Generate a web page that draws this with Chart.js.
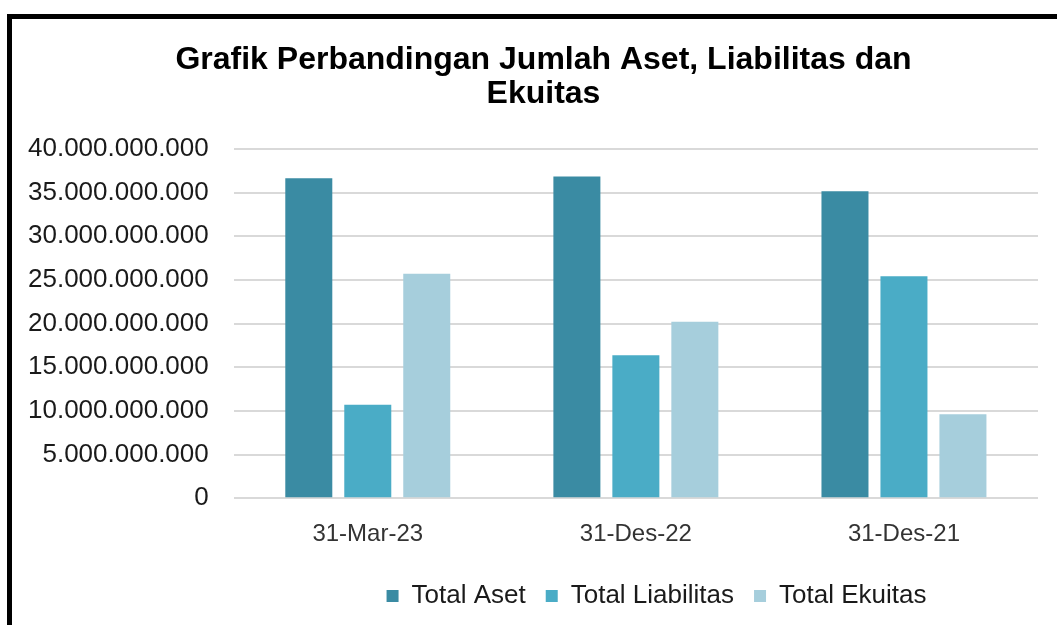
<!DOCTYPE html>
<html><head><meta charset="utf-8">
<script src="https://cdn.jsdelivr.net/npm/chart.js@4.4.1/dist/chart.umd.min.js"></script>
<style>
html,body{margin:0;padding:0;background:#fff;overflow:hidden;width:1057px;height:625px}
#wrap{position:relative;width:1057px;height:625px}
canvas{position:absolute;left:0;top:0}
#frame{position:absolute;left:7px;top:14px;width:1100px;height:700px;border:5px solid #000;box-sizing:border-box;pointer-events:none}
</style></head><body>
<div id="wrap"><canvas id="c" width="1057" height="625"></canvas><div id="frame"></div></div>
<script>
const titleLines = ['Grafik Perbandingan Jumlah Aset, Liabilitas dan', 'Ekuitas'];
const categories = ['31-Mar-23', '31-Des-22', '31-Des-21'];
const seriesNames = ['Total Aset', 'Total Liabilitas', 'Total Ekuitas'];
const totalAset = [36630000000, 36820000000, 35140000000];
const totalLiabilitas = [10690000000, 16360000000, 25400000000];
const totalEkuitas = [25710000000, 20190000000, 9620000000];
const yMin = 0, yMax = 40000000000, yStep = 5000000000;

const colors = ['#3a8ba3', '#4aacc6', '#a6cedc'];
const fmt = v => String(Math.round(v)).replace(/\B(?=(\d{3})+(?!\d))/g, '.');

const shiftPlugin = {
  id: 'shiftBoxes',
  afterLayout(chart) {
    const t = chart.titleBlock, l = chart.legend;
    if (t) { t.left += 23; t.right += 23; }
    if (l) { l.left += 136; l.right += 136; }
  }
};

new Chart(document.getElementById('c'), {
  type: 'bar',
  data: {
    labels: categories,
    datasets: [
      { label: seriesNames[0], data: totalAset, backgroundColor: colors[0] },
      { label: seriesNames[1], data: totalLiabilitas, backgroundColor: colors[1] },
      { label: seriesNames[2], data: totalEkuitas, backgroundColor: colors[2] }
    ]
  },
  options: {
    responsive: false,
    animation: false,
    categoryPercentage: 0.66,
    barPercentage: 0.797,
    layout: { padding: { left: 3, right: 19, top: 19, bottom: 6 } },
    plugins: {
      title: {
        display: true,
        text: titleLines,
        color: '#000',
        font: { family: '"Liberation Sans", Arial, sans-serif', size: 32, weight: 'bold', lineHeight: 1.06 },
        padding: { top: 24, bottom: 38 }
      },
      legend: {
        position: 'bottom',
        labels: {
          boxWidth: 12, boxHeight: 12, padding: 20,
          color: '#1a1a1a',
          font: { family: '"Liberation Sans", Arial, sans-serif', size: 26 }
        }
      },
      tooltip: { enabled: false }
    },
    scales: {
      x: {
        grid: { display: false },
        border: { display: false },
        ticks: {
          color: '#333',
          padding: 14,
          font: { family: '"Liberation Sans", Arial, sans-serif', size: 24, lineHeight: 1.2 }
        }
      },
      y: {
        min: yMin, max: yMax,
        grid: { color: '#d9d9d9', lineWidth: 2, drawTicks: false },
        border: { display: false },
        ticks: {
          stepSize: yStep,
          color: '#1a1a1a',
          padding: 25,
          font: { family: '"Liberation Sans", Arial, sans-serif', size: 26 },
          callback: v => fmt(v)
        }
      }
    }
  },
  plugins: [shiftPlugin]
});
</script>
</body></html>
